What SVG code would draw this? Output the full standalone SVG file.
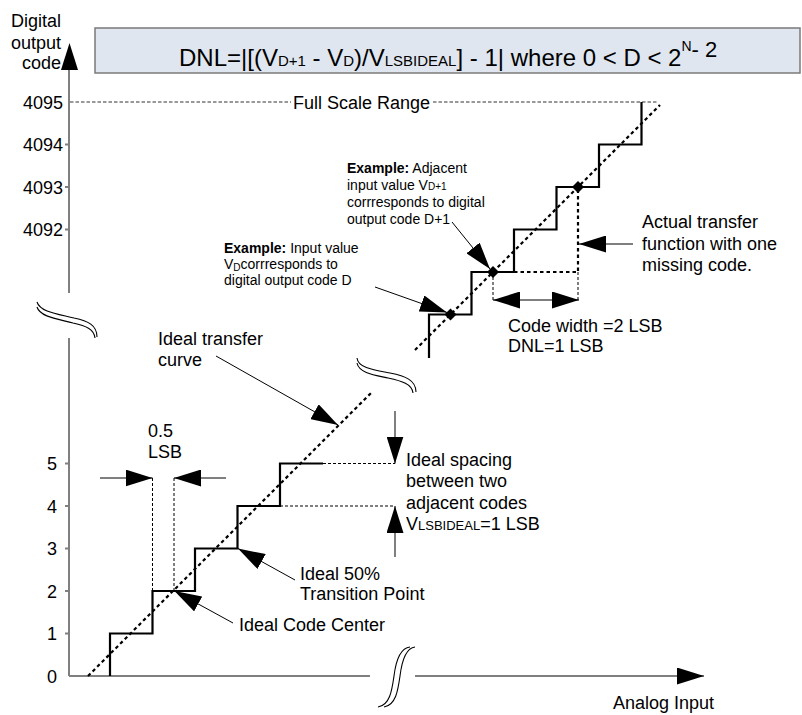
<svg xmlns="http://www.w3.org/2000/svg" width="802" height="715" viewBox="0 0 802 715">
<style>
text{font-family:"Liberation Sans",Arial,sans-serif;fill:#000}
.lb{font-size:18px}
.sm{font-size:14px}
.ax{stroke:#808080;stroke-width:2;fill:none}
.stair{stroke:#000;stroke-width:2.2;fill:none;stroke-linejoin:miter}
.ideal{stroke:#000;stroke-width:2.2;fill:none;stroke-dasharray:3.5 3}
.thin{stroke:#000;stroke-width:1;fill:none;stroke-dasharray:3 2}
.fsr{stroke:#333;stroke-width:1;fill:none;stroke-dasharray:3.5 2}
.ar{stroke:#000;stroke-width:1;fill:none;marker-end:url(#ah)}
.brk{stroke:#000;stroke-width:1.1;fill:none}
</style>
<defs>
<marker id="ah" viewBox="0 0 27 17" refX="27" refY="8.5" markerWidth="27" markerHeight="17" markerUnits="userSpaceOnUse" orient="auto-start-reverse">
<path d="M0,0 L27,8.5 L0,17 Z" fill="#000"/>
</marker>
</defs>
<rect width="802" height="715" fill="#fff"/>

<g id="title">
<rect x="95" y="28" width="705" height="45" fill="#dfe6ef" stroke="#7a7a7a" stroke-width="1.5"/>
<text x="179" y="66" font-size="24">DNL=|[(V<tspan font-size="15">D+1</tspan> - V<tspan font-size="15">D</tspan>)/V<tspan font-size="15">LSBIDEAL</tspan>] - 1| where 0 &lt; D &lt; 2<tspan font-size="14" dy="-15">N</tspan><tspan font-size="22" dy="6">- 2</tspan></text>
</g>

<g id="y-axis">
<line class="ax" x1="69" y1="68" x2="69" y2="293"/>
<line class="ax" x1="69" y1="338" x2="69" y2="676"/>
<polygon points="69.5,43 78,70 61,70" fill="#000"/>
<path class="ax" stroke-width="1.5" d="M65,144.5H69M65,187H69M65,229.5H69M65,463.5H69M65,506H69M65,548.5H69M65,591H69M65,633.5H69"/>
<text class="lb" x="61" y="27" text-anchor="end">Digital</text>
<text class="lb" x="61" y="48.5" text-anchor="end">output</text>
<text class="lb" x="61" y="69" text-anchor="end">code</text>
<text class="lb" x="63" y="108.5" text-anchor="end">4095</text>
<text class="lb" x="63" y="151" text-anchor="end">4094</text>
<text class="lb" x="63" y="193.5" text-anchor="end">4093</text>
<text class="lb" x="63" y="236" text-anchor="end">4092</text>
<text class="lb" x="57" y="470" text-anchor="end">5</text>
<text class="lb" x="57" y="512.5" text-anchor="end">4</text>
<text class="lb" x="57" y="555" text-anchor="end">3</text>
<text class="lb" x="57" y="597.5" text-anchor="end">2</text>
<text class="lb" x="57" y="640" text-anchor="end">1</text>
<text class="lb" x="57" y="682.5" text-anchor="end">0</text>
</g>

<g id="x-axis">
<line class="ax" x1="69" y1="676" x2="370" y2="676"/>
<line x1="415" y1="676" x2="704" y2="676" stroke="#808080" stroke-width="2" marker-end="url(#ah)"/>
<text class="lb" x="613" y="709">Analog Input</text>
</g>

<g id="breaks">
<path class="brk" d="M37,302 C40,312 58,314 74,318 C88,321 97,325 97,337"/>
<path class="brk" d="M37,307 C40,317 58,319 73,323 C86,326 94,329 95,338"/>
<path class="brk" d="M357,358 C358,368 374,370 390,373 C405,376 416,380 416,392"/>
<path class="brk" d="M357,363 C359,373 374,375 388,378 C402,381 412,384 413,393"/>
<path class="brk" d="M378,707 C390,705 392,690 394,676 C396,660 400,648 410,647"/>
<path class="brk" d="M384,707 C396,705 398,690 400,676 C402,660 406,648 415,647"/>
</g>

<g id="full-scale">
<line class="fsr" x1="70" y1="102" x2="291" y2="102"/>
<line class="fsr" x1="433" y1="102" x2="657" y2="102"/>
<text class="lb" x="293" y="108.5">Full Scale Range</text>
</g>

<g id="upper-transfer">
<line class="ideal" x1="415" y1="350" x2="660" y2="105"/>
<path class="stair" d="M429,358 V314.5 H471.5 V272 H514 V229.5 H556.5 V187 H599 V144.5 H641.5 V102"/>
<path class="ideal" d="M514,272 H578 V187"/>
<line class="thin" x1="578" y1="272" x2="578" y2="300"/>
<line class="thin" x1="493" y1="272" x2="493" y2="300"/>
<polygon points="450.5,308.5 456.5,314.5 450.5,320.5 444.5,314.5" fill="#000"/>
<polygon points="493,266 499,272 493,278 487,272" fill="#000"/>
<polygon points="578,181 584,187 578,193 572,187" fill="#000"/>
</g>

<g id="lower-transfer">
<line class="ideal" x1="88" y1="676" x2="372" y2="392"/>
<path class="stair" d="M110,676 V633.5 H152.5 V591 H195 V548.5 H237.5 V506 H280 V463.5 H323"/>
<line class="thin" x1="323" y1="463.5" x2="395" y2="463.5"/>
<line class="thin" x1="280" y1="506" x2="395" y2="506"/>
<line class="thin" x1="152.5" y1="478" x2="152.5" y2="591"/>
<line class="thin" x1="174" y1="478" x2="174" y2="591" stroke="#888"/>
</g>

<g id="connectors">
<line class="ar" x1="375" y1="287" x2="447" y2="312.5"/>
<line class="ar" x1="452" y1="222" x2="490" y2="269"/>
<line class="ar" x1="633" y1="244" x2="579" y2="244"/>
<line class="ar" x1="493" y1="300" x2="579" y2="300" marker-start="url(#ah)"/>
<line class="ar" x1="216" y1="356" x2="338" y2="425"/>
<line class="ar" x1="295" y1="580" x2="238" y2="548.5"/>
<line class="ar" x1="233" y1="623" x2="174.5" y2="591"/>
<line class="ar" x1="395" y1="411" x2="395" y2="463.5"/>
<line class="ar" x1="395" y1="557" x2="395" y2="506"/>
<line class="ar" x1="100" y1="478" x2="152.5" y2="478"/>
<line class="ar" x1="226" y1="478" x2="174" y2="478"/>
</g>

<g id="label-example-adjacent">
<text class="sm" x="347" y="173"><tspan font-weight="bold">Example:</tspan> Adjacent</text>
<text class="sm" x="347" y="190">input value V<tspan font-size="10">D+1</tspan></text>
<text class="sm" x="347" y="207">corrresponds to digital</text>
<text class="sm" x="347" y="224">output code D+1</text>
</g>
<g id="label-example-input">
<text class="sm" x="224" y="253"><tspan font-weight="bold">Example:</tspan> Input value</text>
<text class="sm" x="224" y="269">V<tspan font-size="10" dy="2">D</tspan><tspan dy="-2">corrresponds to</tspan></text>
<text class="sm" x="224" y="285">digital output code D</text>
</g>
<g id="label-actual">
<text class="lb" x="642" y="228">Actual transfer</text>
<text class="lb" x="642" y="250">function with one</text>
<text class="lb" x="642" y="271">missing code.</text>
</g>
<g id="label-codewidth">
<text class="lb" x="508" y="332">Code width =2 LSB</text>
<text class="lb" x="508" y="352">DNL=1 LSB</text>
</g>
<g id="label-ideal-curve">
<text class="lb" x="158" y="345">Ideal transfer</text>
<text class="lb" x="158" y="366">curve</text>
</g>
<g id="label-half-lsb">
<text class="lb" x="148" y="437">0.5</text>
<text class="lb" x="148" y="458">LSB</text>
</g>
<g id="label-spacing">
<text class="lb" x="406" y="465.5">Ideal spacing</text>
<text class="lb" x="406" y="487">between two</text>
<text class="lb" x="406" y="508.5">adjacent codes</text>
<text class="lb" x="406" y="530">V<tspan font-size="13">LSBIDEAL</tspan>=1 LSB</text>
</g>
<g id="label-transition">
<text class="lb" x="300" y="580">Ideal 50%</text>
<text class="lb" x="300" y="600">Transition Point</text>
</g>
<g id="label-center">
<text class="lb" x="239" y="631">Ideal Code Center</text>
</g>
</svg>
